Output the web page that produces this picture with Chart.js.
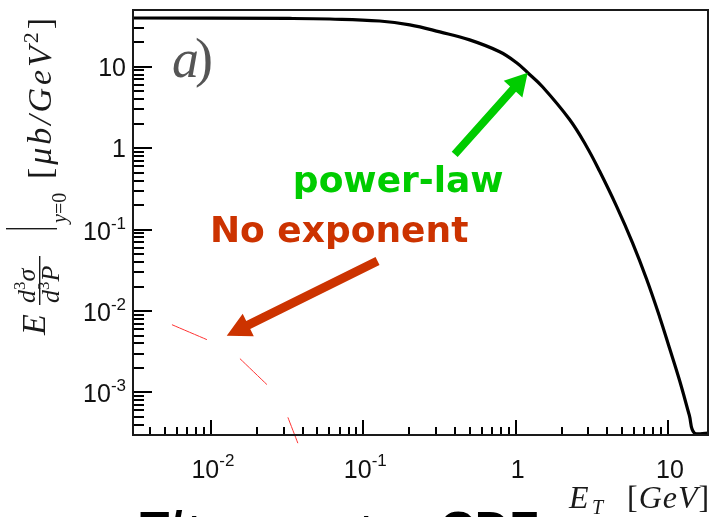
<!DOCTYPE html>
<html>
<head>
<meta charset="utf-8">
<script src="https://cdn.jsdelivr.net/npm/chart.js@4.4.1/dist/chart.umd.min.js"></script>
<style>
  html, body { margin: 0; padding: 0; background: #fff; }
</style>
</head>
<body>
<canvas id="spectrum" width="710" height="517"></canvas>
<script>
// spectrum: E_T in GeV, invariant cross section in mub/GeV^2
const etValues = [0.00308, 0.033, 0.0603, 0.128, 0.202, 0.318, 0.499, 0.785, 1.015, 1.2, 1.5,
                  2.26, 2.92, 3.56, 4.59, 5.85, 7.23, 8.8, 10.2, 11.9, 13.8, 14.9, 18.3];
const xsecValues = [39.7, 39.2, 38.6, 36.5, 32.7, 26.8, 21.4, 15.3, 11.2, 8.45, 5.69,
                    2.25, 1.05, 0.52, 0.194, 0.0687, 0.0247, 0.00853, 0.00356, 0.00141, 0.000524, 0.000316, 0.000316];

// thin red "no exponent" curve, only the visible dashes (null = gap)
const noExpEt = [0.00555, 0.00941, 0.012, 0.0155, 0.0233, 0.028, 0.032, 0.0372];
const noExpXsec = [0.00679, 0.00445, null, 0.0026, 0.00125, null, 0.000494, 0.000238];

// axis ranges and tick labels
const xRange = [0.00308, 18.3];
const yRange = [0.000315, 49.8];
const xTickValues = [0.01, 0.1, 1, 10];
const xTickLabels = [['10', '-2'], ['10', '-1'], ['1', ''], ['10', '']];
const yTickValues = [10, 1, 0.1, 0.01, 0.001];
const yTickLabels = [['10', ''], ['1', ''], ['10', '-1'], ['10', '-2'], ['10', '-3']];
const decades = [0.0001, 0.001, 0.01, 0.1, 1, 10];
const minorSteps = [1, 2, 3, 4, 5, 6, 7, 8, 9];

// annotation anchors, in data units
const notes = {
  greenArrow: { from: [0.398, 0.839], to: [1.2, 8.45] },
  redArrow: { from: [0.124, 0.0412], to: [0.0127, 0.00498] },
  powerLaw: [0.0345, 0.288],
  noExponent: [0.00985, 0.0703],
  panel: [0.00555, 7.55]
};

const GREEN = '#00cc00';
const RUST = '#cc3300';

function rotText(ctx, txt, bx, sy, font) {
  ctx.save();
  ctx.translate(bx, sy);
  ctx.rotate(-Math.PI / 2);
  ctx.font = font;
  ctx.textAlign = 'left';
  ctx.textBaseline = 'alphabetic';
  ctx.fillText(txt, 0, 0);
  ctx.restore();
  ctx.font = font;
  return ctx.measureText(txt).width;
}

function arrow(ctx, x0, y0, x1, y1, shaft, headLen, headW, color) {
  const dx = x1 - x0, dy = y1 - y0;
  const len = Math.hypot(dx, dy);
  const ux = dx / len, uy = dy / len;
  const nx = -uy, ny = ux;
  const bx = x1 - ux * headLen, by = y1 - uy * headLen;
  ctx.fillStyle = color;
  ctx.beginPath();
  ctx.moveTo(x0 + nx * shaft / 2, y0 + ny * shaft / 2);
  ctx.lineTo(bx + nx * shaft / 2, by + ny * shaft / 2);
  ctx.lineTo(bx + nx * headW / 2, by + ny * headW / 2);
  ctx.lineTo(x1, y1);
  ctx.lineTo(bx - nx * headW / 2, by - ny * headW / 2);
  ctx.lineTo(bx - nx * shaft / 2, by - ny * shaft / 2);
  ctx.lineTo(x0 - nx * shaft / 2, y0 - ny * shaft / 2);
  ctx.closePath();
  ctx.fill();
}

const rootStyle = {
  id: 'rootStyle',
  afterDraw(chart) {
    const ctx = chart.ctx;
    const a = chart.chartArea;
    const x = chart.scales.x, y = chart.scales.y;
    ctx.save();

    // tick labels
    ctx.fillStyle = '#111';
    ctx.textBaseline = 'alphabetic';
    ctx.textAlign = 'left';
    const baseFont = '25px "Liberation Sans", Arial, sans-serif';
    const supFont = '17px "Liberation Sans", Arial, sans-serif';
    yTickValues.forEach((v, i) => {
      const [b, s] = yTickLabels[i];
      const py = y.getPixelForValue(v);
      ctx.font = baseFont; const wb = ctx.measureText(b).width;
      ctx.font = supFont; const ws = s ? ctx.measureText(s).width : 0;
      const x0 = 126 - wb - ws;
      ctx.font = baseFont; ctx.fillText(b, x0, py + (s ? 10 : 9));
      if (s) { ctx.font = supFont; ctx.fillText(s, x0 + wb, py - 1); }
    });
    xTickValues.forEach((v, i) => {
      const [b, s] = xTickLabels[i];
      const px = x.getPixelForValue(v);
      ctx.font = baseFont; const wb = ctx.measureText(b).width;
      ctx.font = supFont; const ws = s ? ctx.measureText(s).width : 0;
      const x0 = px - (wb + ws) / 2 + 2;
      ctx.font = baseFont; ctx.fillText(b, x0, a.bottom + 43);
      if (s) { ctx.font = supFont; ctx.fillText(s, x0 + wb, a.bottom + 31); }
    });

    // x title: E_T [GeV]
    ctx.fillStyle = '#1a1a1a';
    ctx.font = 'italic 32px "Liberation Serif", serif';
    ctx.fillText('E', 569, 508);
    ctx.font = 'italic 20px "Liberation Serif", serif';
    ctx.fillText('T', 592, 514);
    let gx = 627;
    [['[', ''], ['G', 'italic '], ['e', 'italic '], ['V', 'italic '], [']', '']].forEach(([c, st]) => {
      ctx.font = st + '32px "Liberation Serif", serif';
      ctx.fillText(c, gx, 508);
      gx += ctx.measureText(c).width + 1;
    });

    // y title: E d3sigma/d3P |_{y=0} [mub/GeV^2]
    const it = s => 'italic ' + s + 'px "Liberation Serif", serif';
    const up = s => s + 'px "Liberation Serif", serif';
    rotText(ctx, 'E', 45, 335, it(34));
    let sy = 303;
    sy -= rotText(ctx, 'd', 35, sy, it(26));
    sy -= rotText(ctx, '3', 25, sy, up(17));
    rotText(ctx, 'σ', 35, sy, it(26));
    sy = 303;
    sy -= rotText(ctx, 'd', 59, sy, it(26));
    sy -= rotText(ctx, '3', 49, sy, up(17));
    rotText(ctx, 'P', 59, sy, it(26));
    ctx.fillStyle = '#1a1a1a';
    ctx.fillRect(39, 256, 1.4, 49);   // fraction bar
    ctx.fillRect(6, 228, 51, 1.4);    // evaluation bar
    sy = 223;
    sy -= rotText(ctx, 'y', 66, sy, it(20));
    rotText(ctx, '=0', 66, sy, up(20));
    const unit = [['[', up(34), 0], ['μ', it(34), 0], ['b', it(34), 0], ['/', it(34), 0],
                  ['G', it(34), 0], ['e', it(34), 0], ['V', it(34), 0], ['2', up(22), -13], [']', up(34), 0]];
    let natural = 0;
    unit.forEach(([c, f]) => { ctx.font = f; natural += ctx.measureText(c).width; });
    const gap = Math.max(0, (161 - natural) / (unit.length - 1));
    sy = 179;
    unit.forEach(([c, f, raise]) => {
      sy -= rotText(ctx, c, 51 + raise, sy, f) + gap;
    });

    // panel label
    ctx.fillStyle = '#555';
    ctx.font = 'italic 54px "Liberation Serif", serif';
    ctx.fillText('a', x.getPixelForValue(notes.panel[0]), y.getPixelForValue(notes.panel[1]));
    ctx.font = '54px "Liberation Serif", serif';
    ctx.fillText(')', x.getPixelForValue(notes.panel[0]) + 23, y.getPixelForValue(notes.panel[1]) - 1);

    // arrows and notes
    const pt = p => [x.getPixelForValue(p[0]), y.getPixelForValue(p[1])];
    let f = pt(notes.greenArrow.from), t = pt(notes.greenArrow.to);
    arrow(ctx, f[0], f[1], t[0], t[1], 8, 22, 25, GREEN);
    f = pt(notes.redArrow.from); t = pt(notes.redArrow.to);
    arrow(ctx, f[0], f[1], t[0], t[1], 9, 24, 25, RUST);
    ctx.font = 'bold 36px "DejaVu Sans", sans-serif';
    ctx.fillStyle = GREEN;
    let p = pt(notes.powerLaw);
    ctx.fillText('power-law', p[0], p[1]);
    ctx.fillStyle = RUST;
    p = pt(notes.noExponent);
    ctx.fillText('No exponent', p[0], p[1]);

    // slide text running off the bottom edge
    ctx.fillStyle = '#000';
    ctx.font = 'bold 48px "Liberation Sans", Arial, sans-serif';
    ctx.fillText('T/', 140, 545);
    ctx.fillText('t', 186, 548);
    ctx.fillText('t', 358, 548);
    ctx.fillText('CDF', 440, 545);

    // inward ticks, 1..9 x 10^n, drawn last so nothing covers them
    ctx.fillStyle = '#000';
    const left = Math.round(a.left);
    decades.forEach(d => {
      minorSteps.forEach(m => {
        const v = m * d;
        if (v > yRange[0] && v < yRange[1]) {
          const py = Math.round(y.getPixelForValue(v));
          ctx.fillRect(left, py - 1, m === 1 ? 19 : 11, 2);
        }
        if (v > xRange[0] && v < xRange[1]) {
          const px = Math.round(x.getPixelForValue(v));
          const len = m === 1 ? 15 : 8;
          ctx.fillRect(px - 1, Math.round(a.bottom) - len, 2, len);
        }
      });
    });

    // frame
    ctx.lineWidth = 2;
    ctx.strokeStyle = '#1a1a1a';
    ctx.strokeRect(a.left, a.top, a.right - a.left, a.bottom - a.top);

    ctx.restore();
  }
};

new Chart(document.getElementById('spectrum').getContext('2d'), {
  type: 'line',
  data: {
    datasets: [
      {
        label: 'spectrum',
        data: etValues.map((v, i) => ({ x: v, y: xsecValues[i] })),
        borderColor: '#000',
        borderWidth: 3.2,
        pointRadius: 0,
        fill: false,
        tension: 0.4
      },
      {
        label: 'no exponent',
        data: noExpEt.map((v, i) => ({ x: v, y: noExpXsec[i] })),
        borderColor: '#ff3333',
        borderWidth: 1,
        pointRadius: 0,
        fill: false,
        spanGaps: false,
        tension: 0.2,
        clip: false
      }
    ]
  },
  options: {
    responsive: false,
    animation: false,
    devicePixelRatio: 1,
    layout: { padding: { top: 10, right: 2, left: 0, bottom: 0 } },
    plugins: { legend: { display: false }, tooltip: { enabled: false } },
    scales: {
      x: {
        type: 'logarithmic',
        min: xRange[0],
        max: xRange[1],
        ticks: { display: false },
        grid: { display: false },
        border: { display: false },
        afterFit: s => { s.height = 82; }
      },
      y: {
        type: 'logarithmic',
        min: yRange[0],
        max: yRange[1],
        ticks: { display: false },
        grid: { display: false },
        border: { display: false },
        afterFit: s => { s.width = 133; }
      }
    }
  },
  plugins: [rootStyle]
});
</script>
</body>
</html>
